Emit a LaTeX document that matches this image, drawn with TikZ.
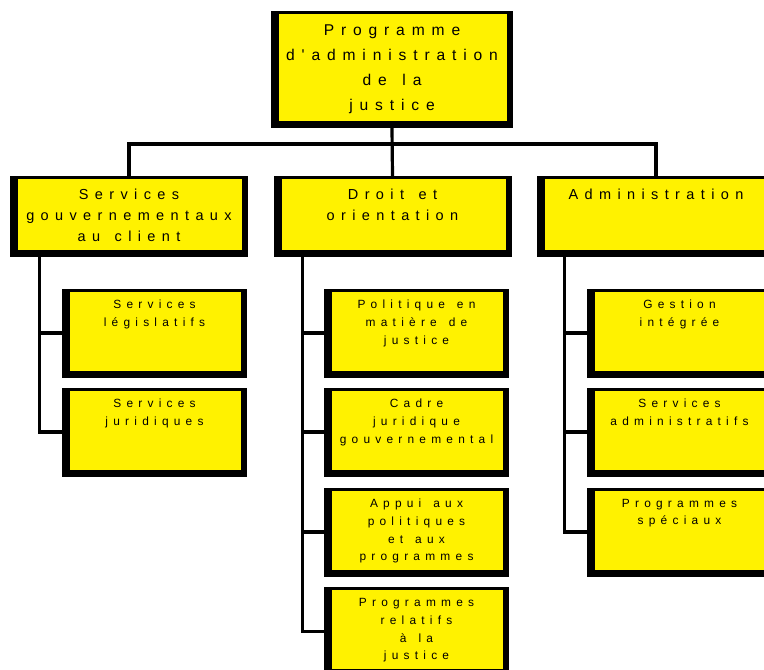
\documentclass[tikz,border=0pt]{standalone}
\usepackage{fontspec}
\setmainfont{Liberation Sans}[Ligatures=TeXOff,LetterSpace=44,WordSpace=1.4]
\usetikzlibrary{calc,positioning}

\tikzset{
  orgbox/.style={fill=black, inner sep=0pt,
    path picture={\fill[yellow] ([xshift=8pt,yshift=7pt]path picture bounding box.south west)
      rectangle ([xshift=-6pt,yshift=-3pt]path picture bounding box.north east);}},
  txtA/.style={align=center, inner sep=0pt, font=\fontsize{15.6}{25}\selectfont},
  txtB/.style={align=center, inner sep=0pt, font=\fontsize{14.5}{21}\selectfont},
  txtC/.style={align=center, inner sep=0pt, font=\fontsize{11.9}{17.7}\selectfont},
  headbox/.style={orgbox, minimum width=242pt, minimum height=117pt, label={[txtA,below=13.5pt]north:#1}},
  deptbox/.style={orgbox, minimum width=238pt, minimum height=81pt, label={[txtB,below=12.5pt]north:#1}},
  unitbox/.style={orgbox, minimum width=185pt, minimum height=89pt, label={[txtC,below=11.5pt]north:#1}},
  conn/.style={line width=3.2pt, line cap=rect}
}

\begin{document}
\begin{tikzpicture}[x=1pt,y=-1pt]
  \useasboundingbox (0,0) rectangle (764,670);
  %\draw[color=gray,step=10, help lines,opacity=0.3] (0,0) grid (764,670); %help grid

  % top
  \node[headbox={Programme\\d'administration\\de la\\justice}] (pad) at (392,69.5) {};

  % second row
  \node[deptbox={Services\\gouvernementaux\\au client}] (sgc) at (129,216.5) {};
  \node[deptbox={Droit et\\orientation}] (dor) at (392.5,216.5) {};
  \node[deptbox={Administration}] (adm) at (656,216.5) {};

  % third row, left
  \node[unitbox={Services\\législatifs}] (leg) at (154.5,333) {};
  \node[unitbox={Services\\juridiques}] (jur) at (154.5,432) {};
  % third row, middle
  \node[unitbox={Politique en\\matière de\\justice}] (pol) at (416.5,333) {};
  \node[unitbox={Cadre\\juridique\\gouvernemental}] (cad) at (416.5,432) {};
  \node[unitbox={Appui aux\\politiques\\et aux\\programmes}] (app) at (416.5,532) {};
  \node[unitbox={Programmes\\relatifs\\à la\\justice}] (prj) at (416.5,631.5) {};
  % third row, right
  \node[unitbox={Gestion\\intégrée}] (gin) at (679.5,333) {};
  \node[unitbox={Services\\administratifs}] (sad) at (679.5,432) {};
  \node[unitbox={Programmes\\spéciaux}] (psp) at (679.5,532) {};

  % connectors
  \coordinate (bar) at (0,144);
  \draw[conn] (pad.south) -- (dor.north);
  \draw[conn] (sgc.north) |- (bar -| adm.north) -- (adm.north);
  \foreach \u in {leg,jur} \draw[conn] ([xshift=30pt]sgc.south west) |- (\u.west);
  \foreach \u in {pol,cad,app,prj} \draw[conn] ([xshift=29pt]dor.south west) |- (\u.west);
  \foreach \u in {gin,sad,psp} \draw[conn] ([xshift=28pt]adm.south west) |- (\u.west);
\end{tikzpicture}
\end{document}
